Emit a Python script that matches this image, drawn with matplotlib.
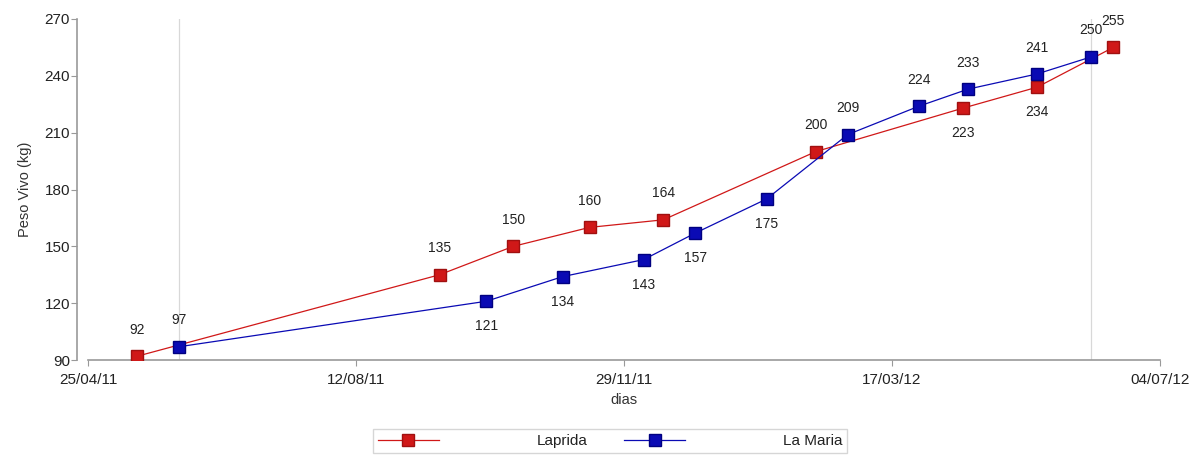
import matplotlib
matplotlib.use("Agg")
import matplotlib.pyplot as plt
import matplotlib.dates as mdates
import pandas as pd

plt.rcParams['font.family'] = ['Liberation Sans', 'DejaVu Sans']

laprida_dates = ["2011-05-15", "2011-09-15", "2011-10-15", "2011-11-15", "2011-12-15",
                 "2012-02-15", "2012-04-15", "2012-05-15", "2012-06-15"]
laprida_values = [92, 135, 150, 160, 164, 200, 223, 234, 255]
laprida_label_pos = ["above", "above", "above", "above", "above", "above", "below", "below", "above"]

lamaria_dates = ["2011-06-01", "2011-10-04", "2011-11-04", "2011-12-07", "2011-12-28",
                 "2012-01-26", "2012-02-28", "2012-03-28", "2012-04-17", "2012-05-15", "2012-06-06"]
lamaria_values = [97, 121, 134, 143, 157, 175, 209, 224, 233, 241, 250]
lamaria_label_pos = ["above", "below", "below", "below", "below", "below",
                     "above", "above", "above", "above", "above"]

tick_dates = ["2011-04-25", "2011-08-12", "2011-11-29", "2012-03-17", "2012-07-04"]
y_ticks = [90, 120, 150, 180, 210, 240, 270]

ld = pd.to_datetime(laprida_dates)
md = pd.to_datetime(lamaria_dates)
td = pd.to_datetime(tick_dates)

fig = plt.figure(figsize=(12.02, 4.57), dpi=100)
ax = fig.add_axes([88/1202, 1-360/457, (1160-88)/1202, (360-19)/457])

red = "#d01818"
blue = "#0a0ab4"

# vertical reference lines
for d in [md[0], md[-1]]:
    ax.axvline(d, color="#d8d8d8", lw=0.9, zorder=0)

ax.plot(ld, laprida_values, color=red, lw=0.9, marker="s", markersize=9,
        markerfacecolor=red, markeredgecolor="#a01010", label="Laprida", zorder=3)
ax.plot(md, lamaria_values, color=blue, lw=0.9, marker="s", markersize=9,
        markerfacecolor=blue, markeredgecolor="#000080", label="La Maria", zorder=4)

for dates, vals, pos in [(ld, laprida_values, laprida_label_pos), (md, lamaria_values, lamaria_label_pos)]:
    for d, v, p in zip(dates, vals, pos):
        off = 19 if p == "above" else -18
        ax.annotate(str(v), (d, v), xytext=(0, off), textcoords="offset points",
                    ha="center", va="center", fontsize=10, color="#222222")

ax.set_xlim(td[0], td[-1])
ax.set_ylim(90, 270)
ax.set_xticks(td)
ax.xaxis.set_major_formatter(mdates.DateFormatter("%d/%m/%y"))
ax.set_yticks(y_ticks)

for s in ["top", "right"]:
    ax.spines[s].set_visible(False)
ax.spines["left"].set_position(("outward", 8))
ax.spines["left"].set_color("#999999")
ax.spines["bottom"].set_color("#999999")
ax.spines["left"].set_linewidth(1.2)
ax.spines["bottom"].set_linewidth(1.2)
ax.tick_params(axis="both", colors="#999999", labelcolor="#222222", labelsize=11, length=4)
ax.tick_params(axis="x", pad=5)
ax.tick_params(axis="y", pad=1)

ax.set_xlabel("dias", fontsize=10.5, color="#333333", labelpad=5)
ax.set_ylabel("Peso Vivo (kg)", fontsize=10.5, color="#333333", labelpad=9)

leg = fig.legend(loc="center", bbox_to_anchor=(610/1202, 1-441/457), ncol=2, frameon=True,
                 fontsize=11, handlelength=4.0, handletextpad=6.4, columnspacing=2.4,
                 borderpad=0.3, borderaxespad=0, fancybox=False, edgecolor="#cccccc",
                 labelcolor="#222222", markerscale=1.0)
leg.get_frame().set_linewidth(1.0)

fig.savefig("out.png", dpi=100)
